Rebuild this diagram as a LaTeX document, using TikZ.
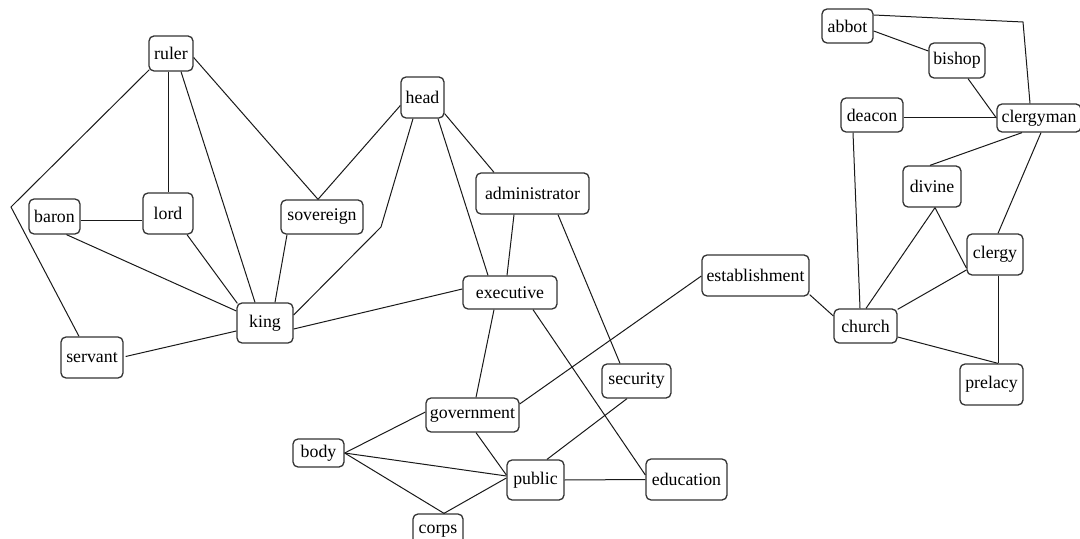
\documentclass[tikz,border=0pt]{standalone}
\usepackage{fontspec}
\setmainfont{Liberation Serif}
\usetikzlibrary{calc}
\begin{document}
\begin{tikzpicture}[x=0.5pt,y=-0.5pt,
  nd/.style 2 args={draw=black!80, line width=0.65pt, fill=white, rounded corners=2.5pt,
    minimum width=#1*0.5pt, minimum height=#2*0.5pt, inner sep=0pt,
    font=\fontsize{8.9pt}{10pt}\selectfont},
  ed/.style={line width=0.5pt, black!90}]
\useasboundingbox (0,0) rectangle (1080,539);
% nodes
\node[nd={44}{35}] (ruler) at (171,53.5) {ruler};
\node[nd={51}{35}] (baron) at (54.5,216.5) {baron};
\node[nd={50}{41}] (lord) at (168,213.5) {lord};
\node[nd={82}{34}] (sovereign) at (322,217) {sovereign};
\node[nd={56}{40}] (king) at (265,323) {king};
\node[nd={62}{41}] (servant) at (92,357.5) {servant};
\node[nd={43}{41}] (head) at (422.5,97.5) {head};
\node[nd={113}{41}] (administrator) at (532.5,193.5) {administrator};
\node[nd={94}{33}] (executive) at (510,292.5) {executive};
\node[nd={69}{34}] (security) at (636.5,381) {security};
\node[nd={93}{34}] (government) at (472.5,415) {government};
\node[nd={51}{28}] (body) at (318.5,453) {body};
\node[nd={57}{40}] (public) at (535.5,480) {public};
\node[nd={81}{41}] (education) at (686.5,479.5) {education};
\node[nd={50}{34}] (corps) at (438,531) {corps};
\node[nd={107}{41}] (establishment) at (755.5,275.5) {establishment};
\node[nd={63}{34}] (church) at (865.5,326) {church};
\node[nd={62}{34}] (deacon) at (872,115) {deacon};
\node[nd={84}{28}] (clergyman) at (1039,118) {clergyman};
\node[nd={51}{34}] (abbot) at (847.5,26) {abbot};
\node[nd={56}{35}] (bishop) at (957,60.5) {bishop};
\node[nd={58}{41}] (divine) at (932,186.5) {divine};
\node[nd={56}{41}] (clergy) at (995,254.5) {clergy};
\node[nd={63}{41}] (prelacy) at (991.5,384.5) {prelacy};
% bend points
\coordinate (bS) at (11,207);
\coordinate (bK) at (381,227);
\coordinate (bC) at (1023,22);
% edges
\draw[ed] ($(ruler.south west)+(1,-2)$) -- (bS) -- ($(servant.north)+(-13,0)$);
\draw[ed] (lord.north |- ruler.south) -- (lord.north);
\draw[ed] ($(ruler.south)+(10,0)$) -- ($(king.north)+(-10,0)$);
\draw[ed] ($(ruler.east)+(0,4)$) -- ($(sovereign.north)+(-4,0)$);
\draw[ed] ($(baron.east)+(0,4.5)$) -- ($(lord.west)+(0,7.5)$);
\draw[ed] ($(baron.south)+(12,0)$) -- ($(king.west)+(0,-12)$);
\draw[ed] ($(lord.south)+(19,0)$) -- ($(king.north west)+(1,1)$);
\draw[ed] ($(sovereign.south)+(-35,0)$) -- ($(king.north)+(10,0)$);
\draw[ed] ($(servant.east)+(2,-1)$) -- ($(king.west)+(0,8)$);
\draw[ed] ($(head.west)+(0,8)$) -- ($(sovereign.north)+(-4,0)$);
\draw[ed] ($(head.south)+(-9.5,0)$) -- (bK) -- ($(king.east)+(0,-8)$);
\draw[ed] ($(head.south east)+(0,-5)$) -- ($(administrator.north)+(-38.5,0)$);
\draw[ed] ($(head.south)+(15.5,0)$) -- ($(executive.north)+(-22,0)$);
\draw[ed] ($(king.east)+(0,6)$) -- ($(executive.west)+(0,-3.5)$);
\draw[ed] ($(administrator.south)+(-18.5,0)$) -- ($(executive.north)+(-3,0)$);
\draw[ed] ($(administrator.south)+(25.5,0)$) -- ($(security.north)+(-16.5,0)$);
\draw[ed] ($(executive.south)+(-16,0)$) -- ($(government.north)+(3.5,0)$);
\draw[ed] ($(executive.south)+(23,0)$) -- ($(education.west)+(0,-4.5)$);
\draw[ed] ($(government.east)+(0,-11)$) -- ($(establishment.west)+(0,0.5)$);
\draw[ed] ($(government.west)+(0,-3)$) -- (body.east);
\draw[ed] ($(government.south)+(3.5,0)$) -- ($(public.west)+(0,-5)$);
\draw[ed] (body.east) -- ($(public.west)+(0,-4)$);
\draw[ed] (body.east) -- ($(corps.north)+(6,0)$);
\draw[ed] ($(corps.north)+(6,0)$) -- ($(public.west)+(0,-2)$);
\draw[ed] ($(security.south)+(-9.5,0)$) -- ($(public.north)+(11.5,0)$);
\draw[ed] (public.east) -- (education.west);
\draw[ed] ($(establishment.south east)+(0,-2)$) -- ($(church.west)+(0,-10)$);
\draw[ed] ($(abbot.east)+(0,5)$) -- ($(bishop.west)+(0,-9.5)$);
\draw[ed] ($(abbot.east)+(0,-11)$) -- (bC) -- ($(clergyman.north)+(-9,0)$);
\draw[ed] ($(bishop.south)+(11,0)$) -- (clergyman.west);
\draw[ed] ($(deacon.east)+(0,3)$) -- (clergyman.west);
\draw[ed] ($(deacon.south)+(-19,0)$) -- ($(church.north)+(-5.5,0)$);
\draw[ed] ($(clergyman.south)+(-17,0)$) -- ($(divine.north)+(-2,0)$);
\draw[ed] ($(clergyman.south)+(2,0)$) -- ($(clergy.north)+(3,0)$);
\draw[ed] ($(divine.south)+(3,0)$) -- ($(church.north)+(0.5,0)$);
\draw[ed] ($(divine.south)+(3,0)$) -- ($(clergy.west)+(0,13.5)$);
\draw[ed] ($(clergy.west)+(0,15.5)$) -- ($(church.north east)+(0,1)$);
\draw[ed] ($(clergy.south)+(3,0)$) -- ($(prelacy.north)+(6.5,0)$);
\draw[ed] ($(church.east)+(0,11)$) -- ($(prelacy.north)+(6.5,0)$);
\end{tikzpicture}
\end{document}
